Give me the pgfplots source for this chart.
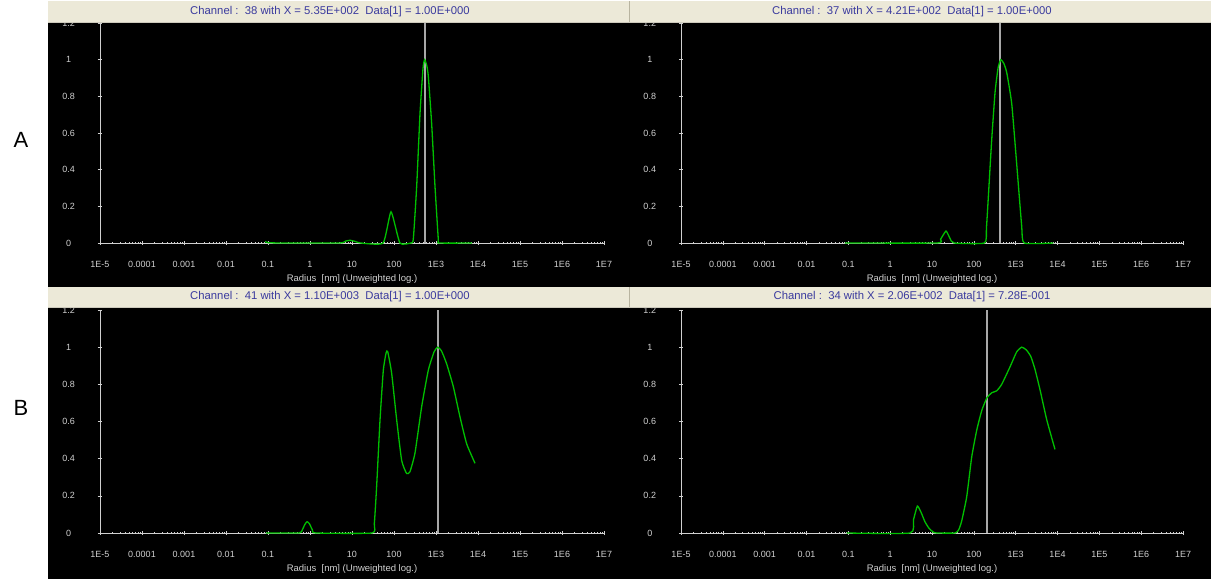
\documentclass[border=0pt]{standalone}
\usepackage{fontspec}
\setmainfont{Liberation Sans}
\usepackage{pgfplots}
\pgfplotsset{compat=1.18}
\definecolor{beige}{HTML}{ECE9D8}
\definecolor{titleblue}{HTML}{3A3A9E}
\definecolor{tickgray}{HTML}{D0D0D0}
\definecolor{curvegreen}{HTML}{00C000}
\definecolor{cursorgray}{HTML}{A8A8A8}
\definecolor{divgray}{HTML}{B8B4A0}

\begin{document}
\begin{tikzpicture}
\fill[white] (0pt,0pt) rectangle (1211pt,585pt);
\useasboundingbox (0pt,0pt) rectangle (1211pt,585pt);
\fill[black] (48pt,6pt) rectangle (1211pt,563pt);

% A left
\begin{axis}[at={(100pt,342pt)}, anchor=south west, scale only axis, width=504pt, height=220pt,
  xmode=log, xmin=1e-5, xmax=1e7, ymin=0, ymax=1.2,
  axis x line=bottom, axis y line=left,
  axis line style={tickgray, -, line width=0.8pt},
  xtick={1e-5,1e-4,1e-3,1e-2,1e-1,1,10,100,1e3,1e4,1e5,1e6,1e7},
  xticklabels={1E-5,0.0001,0.001,0.01,0.1,1,10,100,1E3,1E4,1E5,1E6,1E7},
  ytick={0,0.2,0.4,0.6,0.8,1,1.2},
  yticklabels={0,0.2,0.4,0.6,0.8,1,1.2},
  tick style={tickgray, line width=0.6pt},
  major tick length=4.5pt, minor tick length=2pt,
  tick label style={font=\fontsize{9}{10}\selectfont, text=tickgray},
  xticklabel style={anchor=center, yshift=-19pt},
  yticklabel style={anchor=center, xshift=-29pt},
  xlabel={Radius\ \ [nm] (Unweighted log.)},
  xlabel style={at={(axis description cs:0.5,0)}, anchor=center, yshift=-36pt,
    font=\fontsize{9.5}{10}\selectfont, text=tickgray},
  clip=false]
\addplot[cursorgray, line width=2pt, no markers] coordinates {(535,0) (535,1.2)};
\addplot[curvegreen, line width=1.3pt, no markers, smooth, tension=0.3] coordinates {
(0.085,0.008) (0.1,0.002) (0.2,0) (5,0) (7,0.01) (9,0.015) (12,0.008) (16,0)
(55,0) (85,0.17) (138,0) (250,0) (288,0.02) (347,0.31) (417,0.71) (490,0.95)
(535,1.0) (600,0.97) (656,0.91) (789,0.65) (946,0.31) (1135,0.02) (1200,0) (7244,0)};
\end{axis}

% A right
\begin{axis}[at={(681pt,342pt)}, anchor=south west, scale only axis, width=502pt, height=220pt,
  xmode=log, xmin=1e-5, xmax=1e7, ymin=0, ymax=1.2,
  axis x line=bottom, axis y line=left,
  axis line style={tickgray, -, line width=0.8pt},
  xtick={1e-5,1e-4,1e-3,1e-2,1e-1,1,10,100,1e3,1e4,1e5,1e6,1e7},
  xticklabels={1E-5,0.0001,0.001,0.01,0.1,1,10,100,1E3,1E4,1E5,1E6,1E7},
  ytick={0,0.2,0.4,0.6,0.8,1,1.2},
  yticklabels={0,0.2,0.4,0.6,0.8,1,1.2},
  tick style={tickgray, line width=0.6pt},
  major tick length=4.5pt, minor tick length=2pt,
  tick label style={font=\fontsize{9}{10}\selectfont, text=tickgray},
  xticklabel style={anchor=center, yshift=-19pt},
  yticklabel style={anchor=center, xshift=-29pt},
  xlabel={Radius\ \ [nm] (Unweighted log.)},
  xlabel style={at={(axis description cs:0.5,0)}, anchor=center, yshift=-36pt,
    font=\fontsize{9.5}{10}\selectfont, text=tickgray},
  clip=false]
\addplot[cursorgray, line width=2pt, no markers] coordinates {(421,0) (421,1.2)};
\addplot[curvegreen, line width=1.3pt, no markers, smooth, tension=0.3] coordinates {
(0.083,0) (13,0) (16,0.02) (21.6,0.065) (27,0.025) (33.6,0) (180,0) (200,0.08) (222,0.25) (267,0.56) (321,0.82)
(380,0.955) (440,1.0) (520,0.98) (611,0.93) (805,0.76) (1059,0.43) (1396,0.09) (1600,0) (7943,0)};
\end{axis}

% B left
\begin{axis}[at={(100pt,52pt)}, anchor=south west, scale only axis, width=504pt, height=223pt,
  xmode=log, xmin=1e-5, xmax=1e7, ymin=0, ymax=1.2,
  axis x line=bottom, axis y line=left,
  axis line style={tickgray, -, line width=0.8pt},
  xtick={1e-5,1e-4,1e-3,1e-2,1e-1,1,10,100,1e3,1e4,1e5,1e6,1e7},
  xticklabels={1E-5,0.0001,0.001,0.01,0.1,1,10,100,1E3,1E4,1E5,1E6,1E7},
  ytick={0,0.2,0.4,0.6,0.8,1,1.2},
  yticklabels={0,0.2,0.4,0.6,0.8,1,1.2},
  tick style={tickgray, line width=0.6pt},
  major tick length=4.5pt, minor tick length=2pt,
  tick label style={font=\fontsize{9}{10}\selectfont, text=tickgray},
  xticklabel style={anchor=center, yshift=-19pt},
  yticklabel style={anchor=center, xshift=-29pt},
  xlabel={Radius\ \ [nm] (Unweighted log.)},
  xlabel style={at={(axis description cs:0.5,0)}, anchor=center, yshift=-36pt,
    font=\fontsize{9.5}{10}\selectfont, text=tickgray},
  clip=false]
\addplot[cursorgray, line width=2pt, no markers] coordinates {(1100,0) (1100,1.2)};
\addplot[curvegreen, line width=1.3pt, no markers, smooth, tension=0.3] coordinates {
(0.089,0) (0.55,0) (0.65,0.015) (0.75,0.045) (0.85,0.061) (0.97,0.05) (1.15,0.015) (1.39,0) (30,0)
(34,0.05) (38.6,0.25) (46.5,0.61) (55.7,0.876) (65,0.97) (71,0.975) (87.9,0.86) (115.6,0.61)
(152.4,0.39) (200,0.32) (240,0.33) (316,0.43) (456,0.68) (656,0.876) (900,0.975) (1100,1.0)
(1350,0.98) (1795,0.91) (2588,0.787) (3724,0.625) (5370,0.48) (8492,0.375)};
\end{axis}

% B right
\begin{axis}[at={(681pt,52pt)}, anchor=south west, scale only axis, width=502pt, height=223pt,
  xmode=log, xmin=1e-5, xmax=1e7, ymin=0, ymax=1.2,
  axis x line=bottom, axis y line=left,
  axis line style={tickgray, -, line width=0.8pt},
  xtick={1e-5,1e-4,1e-3,1e-2,1e-1,1,10,100,1e3,1e4,1e5,1e6,1e7},
  xticklabels={1E-5,0.0001,0.001,0.01,0.1,1,10,100,1E3,1E4,1E5,1E6,1E7},
  ytick={0,0.2,0.4,0.6,0.8,1,1.2},
  yticklabels={0,0.2,0.4,0.6,0.8,1,1.2},
  tick style={tickgray, line width=0.6pt},
  major tick length=4.5pt, minor tick length=2pt,
  tick label style={font=\fontsize{9}{10}\selectfont, text=tickgray},
  xticklabel style={anchor=center, yshift=-19pt},
  yticklabel style={anchor=center, xshift=-29pt},
  xlabel={Radius\ \ [nm] (Unweighted log.)},
  xlabel style={at={(axis description cs:0.5,0)}, anchor=center, yshift=-36pt,
    font=\fontsize{9.5}{10}\selectfont, text=tickgray},
  clip=false]
\addplot[cursorgray, line width=2pt, no markers] coordinates {(206,0) (206,1.2)};
\addplot[curvegreen, line width=1.3pt, no markers, smooth, tension=0.3] coordinates {
(0.091,0) (3.0,0) (3.6,0.07) (4.47,0.145) (5.5,0.11) (6.8,0.06) (8.5,0.025) (10.7,0.005) (13,0) (36,0)
(44,0.02) (51.3,0.065) (67.6,0.195) (89.1,0.41) (117.5,0.554) (155,0.66) (206,0.728)
(270,0.755) (352,0.765) (464,0.8) (733,0.894) (1059,0.975) (1400,1.0) (1800,0.985) (2300,0.95)
(2904,0.88) (3828,0.77) (5521,0.61) (8710,0.45)};
\end{axis}

% title bars
\fill[beige] (48pt,563pt) rectangle (1211pt,584pt);
\fill[beige] (48pt,278pt) rectangle (1211pt,298pt);
\draw[divgray, line width=0.8pt] (629pt,563pt) -- (629pt,584pt);
\draw[divgray, line width=0.8pt] (629pt,278pt) -- (629pt,298pt);
\draw[divgray!70, line width=0.6pt] (48pt,563pt) -- (1211pt,563pt);
\draw[divgray!70, line width=0.6pt] (48pt,278pt) -- (1211pt,278pt);

\node[font=\fontsize{11.3}{12}\selectfont, text=titleblue, anchor=center] at (330pt,573pt) {Channel :\ \ 38 with X = 5.35E+002\ \ Data[1] = 1.00E+000};
\node[font=\fontsize{11.3}{12}\selectfont, text=titleblue, anchor=center] at (912pt,573pt) {Channel :\ \ 37 with X = 4.21E+002\ \ Data[1] = 1.00E+000};
\node[font=\fontsize{11.3}{12}\selectfont, text=titleblue, anchor=center] at (330pt,288pt) {Channel :\ \ 41 with X = 1.10E+003\ \ Data[1] = 1.00E+000};
\node[font=\fontsize{11.3}{12}\selectfont, text=titleblue, anchor=center] at (912pt,288pt) {Channel :\ \ 34 with X = 2.06E+002\ \ Data[1] = 7.28E-001};

\node[font=\fontsize{22}{24}\selectfont, anchor=center] at (21pt,445pt) {A};
\node[font=\fontsize{22}{24}\selectfont, anchor=center] at (21pt,177pt) {B};
\end{tikzpicture}
\end{document}
